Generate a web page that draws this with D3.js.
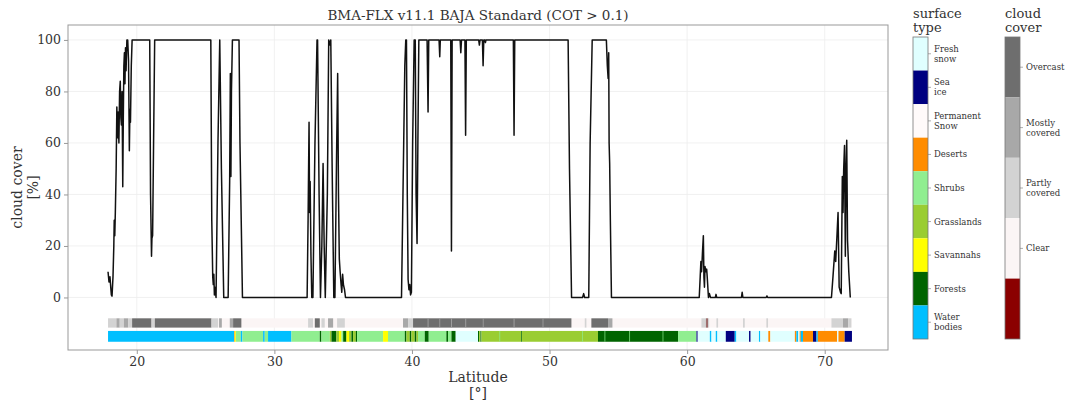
<!DOCTYPE html>
<html>
<head>
<meta charset="utf-8">
<script src="https://cdn.jsdelivr.net/npm/d3@7"></script>
<style>
  body { margin: 0; background: #fff; }
  text { font-family: "DejaVu Serif", serif; fill: #333; }
  .axis path, .axis line { stroke: #999; }
</style>
</head>
<body>
<svg id="chart" width="1074" height="407"></svg>
<script>
// ---- data ----
const latTicks = [20, 30, 40, 50, 60, 70];
const coverTicks = [0, 20, 40, 60, 80, 100];

const surfaceTypes = ["Fresh\nsnow", "Sea\nice", "Permanent\nSnow", "Deserts", "Shrubs", "Grasslands", "Savannahs", "Forests", "Water\nbodies"];
const surfaceColors = ["#e0ffff", "#000080", "#fffafa", "#ff8c00", "#90ee90", "#9acd32", "#ffff00", "#006400", "#00bfff"];

const coverClasses = ["Overcast", "Mostly\ncovered", "Partly\ncovered", "Clear", ""];
const coverColors = ["#6e6e6e", "#a8a8a8", "#d3d3d3", "#fbf5f5", "#8b0000"];

// [latitude, cloud cover %]
const cloudTrace = [
  [17.91, 10], [17.98, 6], [18.05, 8], [18.15, 1], [18.2, 0.5], [18.27, 8], [18.33, 20], [18.36, 30], [18.4, 24],
  [18.44, 33], [18.5, 50], [18.55, 74], [18.6, 62], [18.64, 72], [18.7, 60], [18.75, 80], [18.8, 84], [18.84, 70],
  [18.88, 67], [18.93, 80], [18.98, 43], [19.02, 70], [19.06, 90], [19.1, 95], [19.14, 83], [19.18, 97], [19.22, 88],
  [19.28, 100], [19.34, 100], [19.4, 92], [19.46, 57], [19.5, 73], [19.54, 68], [19.6, 90], [19.66, 100],
  [20.94, 100], [21.0, 40], [21.07, 16], [21.1, 23], [21.15, 24], [21.22, 60], [21.3, 100],
  [25.38, 100], [25.45, 30], [25.52, 8], [25.56, 5], [25.6, 9], [25.64, 1], [25.68, 4], [25.76, 0],
  [25.9, 60], [26.03, 100], [26.15, 50], [26.32, 0], [26.64, 0], [26.75, 45], [26.8, 87], [26.84, 47],
  [26.88, 80], [26.95, 100], [27.43, 100], [27.5, 60], [27.68, 0],
  [32.38, 0], [32.45, 30], [32.52, 68], [32.56, 33], [32.6, 45], [32.66, 16], [32.72, 0], [32.8, 0],
  [32.95, 60], [33.1, 100], [33.14, 100], [33.25, 40], [33.35, 0], [33.45, 20], [33.54, 52], [33.62, 20],
  [33.7, 0], [33.85, 40], [33.95, 100], [34.05, 98], [34.1, 100], [34.2, 50], [34.32, 0], [34.4, 0],
  [34.52, 55], [34.6, 87], [34.66, 40], [34.72, 15], [34.78, 10], [34.85, 5], [34.9, 2], [34.96, 9],
  [35.02, 5], [35.1, 3], [35.17, 0],
  [39.24, 0], [39.32, 30], [39.4, 60], [39.48, 90], [39.55, 100], [39.6, 100], [39.66, 40], [39.72, 7],
  [39.78, 3], [39.84, 5], [39.9, 1], [39.96, 2], [40.05, 60], [40.16, 100], [40.24, 100], [40.3, 40],
  [40.37, 21], [40.43, 60], [40.5, 100], [41.1, 100], [41.17, 72], [41.22, 100], [41.97, 100], [42.02, 93.5],
  [42.06, 100], [42.82, 100], [42.87, 18], [42.92, 100], [43.5, 100], [43.55, 95], [43.6, 100], [43.85, 100],
  [43.9, 63], [43.95, 100], [44.85, 100], [44.9, 98], [44.95, 100], [45.12, 100], [45.17, 90], [45.22, 100],
  [45.3, 100], [45.34, 99], [45.38, 100], [47.37, 100], [47.42, 63], [47.47, 100], [51.35, 100], [51.45, 50],
  [51.6, 0], [52.4, 0], [52.48, 1.5], [52.55, 0], [52.85, 0], [52.95, 60], [53.1, 100], [54.13, 100],
  [54.2, 90], [54.26, 85], [54.3, 95], [54.33, 60], [54.37, 52], [54.42, 30], [54.5, 0],
  [60.88, 0], [60.95, 8], [61.0, 14], [61.05, 10], [61.12, 18], [61.18, 24], [61.22, 8], [61.26, 4],
  [61.3, 12], [61.36, 10], [61.42, 11], [61.46, 8], [61.55, 0], [61.62, 1.5], [61.7, 0], [62.05, 0],
  [62.1, 1.2], [62.15, 0], [63.95, 0], [64.0, 2], [64.05, 0], [65.75, 0], [65.8, 0.6], [65.85, 0],
  [70.49, 0], [70.6, 8], [70.73, 18], [70.8, 14], [70.9, 25], [70.97, 33], [71.02, 15], [71.05, 4],
  [71.15, 2], [71.2, 1.5], [71.25, 30], [71.28, 47], [71.33, 33], [71.38, 50], [71.44, 59], [71.5, 16],
  [71.55, 50], [71.6, 61], [71.66, 22], [71.75, 10], [71.86, 0]
];

// [lat start, lat end, cover class index]
const cloudStrip = [
  [17.91, 71.95, 3],
  [17.91, 18.52, 2], [18.52, 18.76, 1], [18.76, 19.06, 2], [19.06, 19.37, 1], [19.37, 19.66, 2],
  [19.66, 21.07, 0], [21.07, 21.31, 2], [21.31, 25.43, 0], [25.43, 25.91, 2], [25.98, 26.18, 1],
  [26.76, 27.0, 1], [27.0, 27.6, 0],
  [32.45, 32.81, 2], [32.94, 33.3, 0], [33.42, 33.66, 2], [33.9, 34.27, 1], [34.56, 35.12, 2],
  [39.35, 39.72, 1], [39.72, 40.08, 2], [40.08, 51.59, 0], [52.56, 52.68, 2], [53.04, 54.25, 0],
  [54.25, 54.57, 1], [61.04, 61.35, 2], [61.35, 61.52, 1], [61.42, 61.47, 4], [61.52, 61.6, 2],
  [62.13, 62.25, 2], [64.06, 64.19, 2], [65.76, 65.88, 2], [70.49, 71.33, 2], [71.33, 71.7, 1],
  [71.7, 71.94, 2],
  [41.14, 41.2, 1], [42.0, 42.05, 1], [42.85, 42.91, 1], [43.88, 43.94, 1], [45.15, 45.2, 1],
  [47.39, 47.45, 1], [49.5, 49.55, 1]
];

// [lat start, lat end, surface type index]
const surfaceStrip = [
  [17.91, 27.07, 8], [27.07, 27.12, 3], [27.12, 27.2, 6], [27.2, 27.56, 4], [27.56, 27.68, 8],
  [27.68, 29.18, 4], [29.18, 29.3, 8], [29.3, 29.54, 4], [29.54, 31.24, 8], [31.24, 33.3, 4],
  [33.3, 33.42, 7], [33.42, 34.03, 4], [34.03, 34.15, 5], [34.15, 34.51, 7], [34.51, 34.7, 5],
  [34.7, 34.88, 6], [34.88, 35.0, 4], [35.0, 35.24, 7], [35.24, 35.43, 6], [35.43, 35.6, 5],
  [35.6, 35.72, 7], [35.72, 35.92, 5], [35.92, 36.01, 7], [36.01, 37.9, 4], [37.9, 38.26, 6],
  [38.26, 39.48, 4], [39.48, 39.6, 7], [39.6, 39.84, 5], [39.84, 39.96, 7], [39.96, 40.2, 5],
  [40.2, 40.33, 7], [40.33, 40.44, 5], [40.44, 40.93, 4], [40.93, 41.22, 7], [41.22, 42.5, 4],
  [42.5, 42.62, 7], [42.62, 42.87, 4], [42.87, 43.18, 7], [43.18, 44.8, 0], [44.8, 44.88, 7],
  [44.88, 44.98, 5], [44.98, 45.05, 7], [45.05, 47.93, 5], [47.93, 47.99, 7], [47.99, 53.52, 5],
  [53.52, 59.34, 7], [59.34, 60.68, 4], [60.68, 60.77, 1], [60.77, 61.65, 0], [61.65, 61.77, 8],
  [61.77, 62.08, 0], [62.08, 62.2, 8], [62.2, 62.81, 0], [62.81, 63.46, 1], [63.46, 63.58, 8],
  [63.58, 64.5, 0], [64.5, 64.62, 1], [64.62, 65.22, 0], [65.22, 65.32, 8], [65.32, 65.9, 0],
  [65.9, 66.05, 3], [66.05, 67.83, 0], [67.83, 67.94, 3], [67.94, 68.08, 8], [68.08, 68.18, 0],
  [68.18, 68.26, 3], [68.26, 68.42, 8], [68.42, 69.15, 3], [69.15, 69.4, 1], [69.4, 69.5, 8],
  [69.5, 70.9, 3], [70.9, 71.0, 0], [71.0, 71.45, 3], [71.45, 71.98, 1],
  [46.36, 46.41, 4], [52.38, 52.43, 4], [54.0, 54.05, 4], [55.8, 55.85, 4], [58.22, 58.27, 4]
];

// ---- layout ----
const svg = d3.select("#chart");
const plot = { left: 68, right: 888, top: 25, bottom: 350 };
const cloudBand = [-11.7, -8.1];
const surfaceBand = [-17.2, -13.0];

const x = d3.scaleLinear().domain([15, 74.6]).range([plot.left, plot.right]);
const y = d3.scaleLinear().domain([-20.4, 105.8]).range([plot.bottom, plot.top]);

// grid
svg.append("g")
  .selectAll("line")
  .data(latTicks)
  .join("line")
  .attr("x1", (d) => x(d)).attr("x2", (d) => x(d))
  .attr("y1", plot.top).attr("y2", plot.bottom)
  .attr("stroke", "#eeeeee").attr("stroke-width", 0.8);

svg.append("g")
  .selectAll("line")
  .data(coverTicks)
  .join("line")
  .attr("x1", plot.left).attr("x2", plot.right)
  .attr("y1", (d) => y(d)).attr("y2", (d) => y(d))
  .attr("stroke", "#eeeeee").attr("stroke-width", 0.8);

// strips
svg.append("g")
  .selectAll("rect")
  .data(cloudStrip)
  .join("rect")
  .attr("x", (d) => x(d[0]))
  .attr("width", (d) => x(d[1]) - x(d[0]))
  .attr("y", y(cloudBand[1]))
  .attr("height", y(cloudBand[0]) - y(cloudBand[1]))
  .attr("fill", (d) => coverColors[d[2]]);

svg.append("g")
  .selectAll("rect")
  .data(surfaceStrip)
  .join("rect")
  .attr("x", (d) => x(d[0]))
  .attr("width", (d) => x(d[1]) - x(d[0]))
  .attr("y", y(surfaceBand[1]))
  .attr("height", y(surfaceBand[0]) - y(surfaceBand[1]))
  .attr("fill", (d) => surfaceColors[d[2]]);

// cloud cover trace
const line = d3.line().x((d) => x(d[0])).y((d) => y(d[1]));
svg.append("path")
  .datum(cloudTrace)
  .attr("d", line)
  .attr("fill", "none")
  .attr("stroke", "#111")
  .attr("stroke-width", 1.5)
  .attr("stroke-linejoin", "round");

// frame
svg.append("rect")
  .attr("x", plot.left).attr("y", plot.top)
  .attr("width", plot.right - plot.left).attr("height", plot.bottom - plot.top)
  .attr("fill", "none").attr("stroke", "#999").attr("stroke-width", 1);

// axes
const xAxis = svg.append("g")
  .attr("class", "axis")
  .attr("transform", `translate(0,${plot.bottom})`)
  .call(d3.axisBottom(x).tickValues(latTicks).tickSize(4).tickPadding(3));
xAxis.select(".domain").remove();
xAxis.selectAll("text").style("font-size", "12.5px").style("font-family", "DejaVu Serif");

const yAxis = svg.append("g")
  .attr("class", "axis")
  .attr("transform", `translate(${plot.left},0)`)
  .call(d3.axisLeft(y).tickValues(coverTicks).tickSize(4).tickPadding(3));
yAxis.select(".domain").remove();
yAxis.selectAll("text").style("font-size", "12.5px").style("font-family", "DejaVu Serif");

// titles
svg.append("text")
  .attr("x", (plot.left + plot.right) / 2)
  .attr("y", 20)
  .attr("text-anchor", "middle")
  .style("font-size", "13.5px")
  .text("BMA-FLX v11.1 BAJA Standard (COT > 0.1)");

const xLabel = svg.append("text")
  .attr("text-anchor", "middle")
  .style("font-size", "14px");
xLabel.append("tspan").attr("x", (plot.left + plot.right) / 2).attr("y", 382).text("Latitude");
xLabel.append("tspan").attr("x", (plot.left + plot.right) / 2).attr("y", 398).text("[°]");

const yMid = (plot.top + plot.bottom) / 2;
svg.append("text")
  .attr("transform", `translate(22,${yMid}) rotate(-90)`)
  .attr("text-anchor", "middle")
  .style("font-size", "14px")
  .text("cloud cover");
svg.append("text")
  .attr("transform", `translate(38,${yMid}) rotate(-90)`)
  .attr("text-anchor", "middle")
  .style("font-size", "14px")
  .text("[%]");

// colour bars
function colorbar(left, names, colors, title) {
  const g = svg.append("g");
  const band = d3.scaleBand().domain(d3.range(names.length)).range([37, 339]);
  const w = 15;

  g.selectAll("rect")
    .data(names)
    .join("rect")
    .attr("x", left)
    .attr("y", (d, i) => band(i))
    .attr("width", w)
    .attr("height", band.bandwidth())
    .attr("fill", (d, i) => colors[i]);

  g.append("rect")
    .attr("x", left).attr("y", 37)
    .attr("width", w).attr("height", 302)
    .attr("fill", "none").attr("stroke", "#777").attr("stroke-width", 0.8);

  names.forEach((name, i) => {
    if (!name) return;
    const cy = band(i) + band.bandwidth() / 2;
    g.append("line")
      .attr("x1", left + w).attr("x2", left + w + 3)
      .attr("y1", cy).attr("y2", cy)
      .attr("stroke", "#777").attr("stroke-width", 0.6);
    const lines = name.split("\n");
    const t = g.append("text")
      .attr("x", left + w + 6)
      .attr("y", cy - (lines.length - 1) * 5 + 3)
      .style("font-size", "8.5px");
    lines.forEach((l, j) => {
      t.append("tspan").attr("x", left + w + 6).attr("dy", j === 0 ? 0 : 10).text(l);
    });
  });

  title.forEach((l, j) => {
    g.append("text")
      .attr("x", left)
      .attr("y", 18 + j * 14)
      .style("font-size", "13px")
      .text(l);
  });
}

colorbar(913, surfaceTypes, surfaceColors, ["surface", "type"]);
colorbar(1005, coverClasses, coverColors, ["cloud", "cover"]);
</script>
</body>
</html>
